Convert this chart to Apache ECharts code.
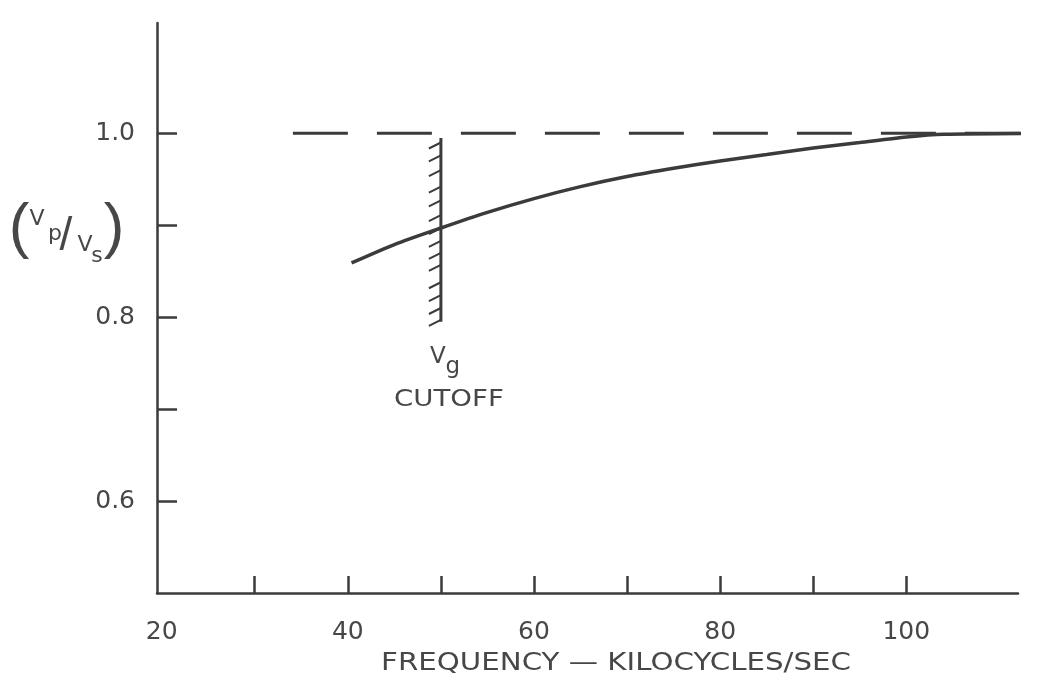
<!DOCTYPE html>
<html>
<head>
<meta charset="utf-8">
<script src="https://cdn.jsdelivr.net/npm/echarts@6/dist/echarts.min.js"></script>
<style>
  html, body { margin: 0; padding: 0; background: #fff; }
  #chart { width: 1046px; height: 694px; }
</style>
</head>
<body>
<div id="chart"></div>
<script>
// phase velocity ratio vs frequency
const freq = [40.4, 45, 50, 55, 60, 65, 70, 75, 80, 85, 90, 95, 100, 104, 115]
const ratio = [0.859, 0.879, 0.897, 0.914, 0.929, 0.942, 0.953, 0.962, 0.970, 0.977, 0.984, 0.990, 0.996, 0.999, 1.0]
// dashed asymptote at 1.0
const asymFreq = [34.1, 115]
const asymRatio = [1.0, 1.0]
// cutoff marker
const cutoffFreq = 50
const cutoffRange = [0.795, 0.995]
const hatchRatio = [0.990, 0.976, 0.960, 0.942, 0.927, 0.911, 0.897, 0.883, 0.870, 0.857, 0.838, 0.824, 0.810, 0.797]
// axis ticks / labels
const xTicks = [30, 40, 50, 60, 70, 80, 90, 100]
const xLabels = [20, 40, 60, 80, 100]
const yTicks = [0.6, 0.7, 0.8, 0.9, 1.0]
const yLabels = [0.6, 0.8, 1.0]

const ink = '#3b3b3b'
const textInk = '#474747'
const font = 'DejaVu Sans'

const chart = echarts.init(document.getElementById('chart'))

const zip = (a, b) => a.map((v, i) => [v, b[i]])

const option = {
  animation: false,
  backgroundColor: '#fff',
  grid: { left: 157, right: 28, top: 23, bottom: 101 },
  xAxis: {
    type: 'value',
    min: 19.5,
    max: 112,
    axisLine: { lineStyle: { color: ink, width: 2.5 } },
    axisTick: { inside: true, length: 17, customValues: xTicks, lineStyle: { color: ink, width: 2.5 } },
    axisLabel: { customValues: xLabels, margin: 27, fontSize: 25, color: textInk, fontFamily: font },
    splitLine: { show: false }
  },
  yAxis: {
    type: 'value',
    min: 0.5,
    max: 1.12,
    axisLine: { show: true, lineStyle: { color: ink, width: 2.5 } },
    axisTick: { show: true, inside: true, length: 20, customValues: yTicks, lineStyle: { color: ink, width: 2.5 } },
    axisLabel: {
      customValues: yLabels,
      formatter: v => v.toFixed(1),
      margin: 22, fontSize: 25, color: textInk, fontFamily: font
    },
    splitLine: { show: false }
  },
  series: [
    {
      type: 'line',
      data: zip(asymFreq, asymRatio),
      showSymbol: false,
      clip: false,
      lineStyle: { color: ink, width: 3, type: [55, 29] }
    },
    {
      type: 'line',
      data: zip(freq, ratio),
      showSymbol: false,
      smooth: 0.25,
      clip: false,
      lineStyle: { color: ink, width: 3.5 }
    },
    {
      type: 'line',
      data: cutoffRange.map(v => [cutoffFreq, v]),
      showSymbol: false,
      lineStyle: { color: ink, width: 3 }
    },
    {
      // short slanted hatch marks on the left of the cutoff line
      type: 'custom',
      data: hatchRatio.map(v => [cutoffFreq, v]),
      renderItem: (params, api) => {
        const p = api.coord([api.value(0), api.value(1)])
        return {
          type: 'line',
          shape: { x1: p[0] - 12, y1: p[1] + 6, x2: p[0], y2: p[1] },
          style: { stroke: ink, lineWidth: 2 }
        }
      }
    }
  ]
}
chart.setOption(option)

// annotation texts
const txt = (x, y, text, size, extra) => Object.assign({
  type: 'text', x: x, y: y,
  style: { text: text, fontSize: size, fontFamily: font, fill: textInk, align: 'center', verticalAlign: 'middle' }
}, extra || {})

const c = chart.convertToPixel({ gridIndex: 0 }, [cutoffFreq, cutoffRange[0]])
chart.setOption({
  graphic: [
    txt(c[0] - 3, c[1] + 35, 'V', 23),
    txt(c[0] + 12, c[1] + 45, 'g', 23),
    txt(c[0] + 8, c[1] + 78, 'CUTOFF', 23, { scaleX: 1.2 }),
    // y axis title (Vp/Vs)
    { type: 'text', x: 19, y: 229, style: { text: '(', fontSize: 62, fontFamily: 'Liberation Sans', fill: textInk, align: 'center', verticalAlign: 'middle' } },
    txt(37, 219, 'V', 22),
    txt(55, 234, 'p', 22),
    { type: 'text', x: 66, y: 237, style: { text: '/', fontSize: 46, fontFamily: 'Liberation Sans', fill: textInk, align: 'center', verticalAlign: 'middle' } },
    txt(85, 245, 'V', 22),
    txt(97, 256, 's', 22),
    { type: 'text', x: 114, y: 229, style: { text: ')', fontSize: 62, fontFamily: 'Liberation Sans', fill: textInk, align: 'center', verticalAlign: 'middle' } },
    // x axis title
    txt(616, 664, 'FREQUENCY — KILOCYCLES/SEC', 24, { scaleX: 1.22 })
  ]
})
</script>
</body>
</html>
